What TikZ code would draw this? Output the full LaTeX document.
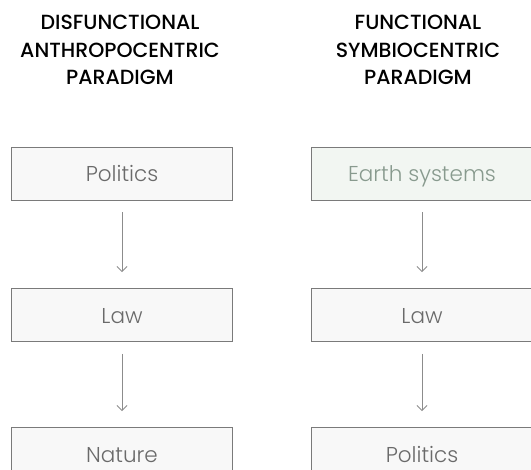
\documentclass[tikz,border=0pt]{standalone}
\usepackage{fontspec}
\setmainfont{Poppins}
\newfontfamily\headfont{Poppins}[UprightFont=* Medium]
\newfontfamily\boxfont{Poppins}[UprightFont=* Light]
\usetikzlibrary{arrows.meta}
\definecolor{boxline}{HTML}{7A7A7A}
\definecolor{boxfill}{HTML}{F8F8F8}
\definecolor{boxtext}{HTML}{6A6A6A}
\definecolor{earthfill}{HTML}{F2F6F2}
\definecolor{earthtext}{HTML}{889A8E}
\definecolor{arrowgray}{HTML}{8C8C8C}
\begin{document}
\begin{tikzpicture}[x=1pt,y=-1pt,
  heading/.style={font=\headfont\fontsize{20.5}{27.5}\selectfont, align=center, text=black, inner sep=0pt},
  stagebox/.style={draw=boxline, line width=0.9pt, fill=boxfill, text=boxtext,
    minimum width=221pt, minimum height=53pt, inner sep=0pt,
    text height=21pt, text depth=4pt,
    font=\boxfont\fontsize{21.5}{24}\selectfont},
  flow/.style={draw=arrowgray, line width=0.8pt, -{Straight Barb[length=5pt,width=10pt,line width=0.8pt]}}
]
\useasboundingbox (0,0) rectangle (531,470);

% column headings
\node[heading] (hl) at (120,50) {DISFUNCTIONAL\\ANTHROPOCENTRIC\\PARADIGM};
\node[heading] (hr) at (418,50) {FUNCTIONAL\\SYMBIOCENTRIC\\PARADIGM};

% left column
\node[stagebox] (l1) at (122,173.5) {Politics};
\node[stagebox] (l2) at (122,315) {Law};
\node[stagebox] (l3) at (122,454) {Nature};

% right column
\node[stagebox, fill=earthfill, text=earthtext] (r1) at (422,173.5) {Earth systems};
\node[stagebox] (r2) at (422,315) {Law};
\node[stagebox] (r3) at (422,454) {Politics};

% connectors, kept clear of the boxes
\draw[flow] ([yshift=-12pt]l1.south) -- ([yshift=16pt]l2.north);
\draw[flow] ([yshift=-12pt]l2.south) -- ([yshift=16pt]l3.north);
\draw[flow] ([yshift=-12pt]r1.south) -- ([yshift=16pt]r2.north);
\draw[flow] ([yshift=-12pt]r2.south) -- ([yshift=16pt]r3.north);
\end{tikzpicture}
\end{document}
